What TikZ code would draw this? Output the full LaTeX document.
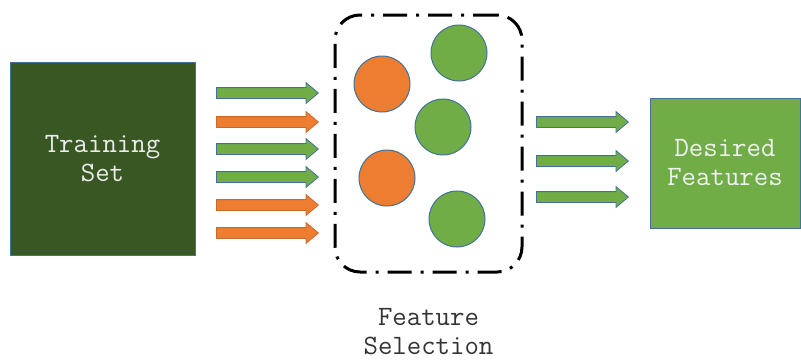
\documentclass[tikz,border=0pt]{standalone}
\usepackage{fontspec}
\usepackage{tikz}
\usetikzlibrary{positioning,shapes.arrows}

\definecolor{darkgreen}{HTML}{385723}
\definecolor{leafgreen}{HTML}{70AD47}
\definecolor{orangeish}{HTML}{ED7D31}
\definecolor{edgeblue}{HTML}{41719C}

\tikzset{
  box/.style={draw=edgeblue, line width=1pt, inner sep=0pt, align=center,
    font=\ttfamily\fontsize{28}{29}\selectfont},
  feat/.style={single arrow, anchor=tail, inner xsep=0pt, inner ysep=5pt,
    minimum height=102pt, single arrow head extend=5pt,
    single arrow tip angle=80, line width=0.8pt},
  greenfeat/.style={feat, fill=leafgreen, draw=edgeblue},
  orangefeat/.style={feat, fill=orangeish, draw=orangeish!85!black},
  ball/.style={circle, minimum size=56pt, inner sep=0pt, line width=1pt, draw=edgeblue},
}

\begin{document}
\begin{tikzpicture}[x=1pt,y=-1pt]
  \useasboundingbox (0,0) rectangle (801,360);

  % training set
  \node[box, fill=darkgreen, text=white!85!gray, minimum width=185pt,
    minimum height=193pt] (train) at (102.5,158.5) {Training\\Set};

  % features going in
  \foreach \y/\s [count=\i] in {93/greenfeat,122/orangefeat,149/greenfeat,
      177/greenfeat,205/orangefeat,233/orangefeat}{
    \node[\s] (in\i) at (216,\y) {};
  }

  % selection box
  \node[draw, line width=3pt, rounded corners=25pt, minimum width=187pt,
    minimum height=257pt, dash pattern=on 24pt off 9pt on 3pt off 9pt]
    (sel) at (428.5,143.5) {};
  \node[font=\ttfamily\fontsize{28}{29}\selectfont, text=black!80, align=center,
    inner sep=0pt, below=35pt of sel] (sellabel) {Feature\\Selection};

  % features
  \node[ball, fill=orangeish] (c1) at (382,84) {};
  \node[ball, fill=leafgreen] (c2) at (459,53) {};
  \node[ball, fill=leafgreen] (c3) at (443,127) {};
  \node[ball, fill=orangeish] (c4) at (387,178) {};
  \node[ball, fill=leafgreen] (c5) at (457,219) {};

  % features going out
  \foreach \y [count=\i] in {122,161,197}{
    \node[greenfeat, minimum height=92pt] (out\i) at (536,\y) {};
  }

  % desired features
  \node[box, fill=leafgreen, text=white!88!gray, minimum width=150pt,
    minimum height=130pt] (desired) at (725,163) {Desired\\Features};
\end{tikzpicture}
\end{document}
